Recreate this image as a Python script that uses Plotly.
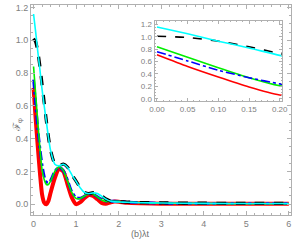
import plotly.graph_objects as go

# time grid
t = [0, 0.05, 0.1, 0.15, 0.2, 0.25, 0.3, 0.35, 0.4, 0.5, 0.6, 0.7, 0.8, 0.9, 1.0,
     1.1, 1.2, 1.3, 1.4, 1.5, 1.6, 1.7, 1.8, 1.9, 2.0, 2.2, 2.5, 3, 4, 5, 6]

red = [0.71, 0.52, 0.35, 0.19, 0.06, 0.01, 0.0, 0.02, 0.07, 0.16, 0.215, 0.2, 0.12, 0.04, 0.0,
       0.012, 0.038, 0.055, 0.05, 0.03, 0.008, 0.003, 0.01, 0.016, 0.015, 0.008, 0.005, 0.003, 0.002, 0.002, 0.002]
green = [0.84, 0.67, 0.5, 0.34, 0.21, 0.15, 0.12, 0.12, 0.14, 0.2, 0.228, 0.205, 0.14, 0.07, 0.035,
         0.035, 0.05, 0.063, 0.06, 0.045, 0.026, 0.017, 0.017, 0.018, 0.017, 0.013, 0.01, 0.006, 0.004, 0.003, 0.003]
blue = [0.76, 0.61, 0.46, 0.34, 0.24, 0.17, 0.135, 0.13, 0.145, 0.2, 0.226, 0.205, 0.145, 0.075, 0.04,
        0.037, 0.05, 0.062, 0.06, 0.046, 0.028, 0.019, 0.018, 0.018, 0.017, 0.013, 0.01, 0.006, 0.004, 0.003, 0.003]
black = [1.01, 0.99, 0.93, 0.84, 0.73, 0.62, 0.51, 0.41, 0.33, 0.245, 0.235, 0.245, 0.225, 0.18, 0.14,
         0.1, 0.072, 0.065, 0.07, 0.066, 0.05, 0.032, 0.02, 0.015, 0.014, 0.013, 0.01, 0.008, 0.006, 0.005, 0.005]
cyan = [1.16, 1.05, 0.93, 0.82, 0.70, 0.6, 0.505, 0.408, 0.328, 0.244, 0.234, 0.244, 0.224, 0.179, 0.139,
        0.099, 0.071, 0.064, 0.069, 0.065, 0.049, 0.031, 0.019, 0.014, 0.013, 0.012, 0.009, 0.007, 0.005, 0.004, 0.004]

x_ticks_main = [0, 1, 2, 3, 4, 5, 6]
y_ticks_main = [0.0, 0.2, 0.4, 0.6, 0.8, 1.0, 1.2]
x_ticks_inset = [0.0, 0.05, 0.1, 0.15, 0.2]
y_ticks_inset = [0.0, 0.2, 0.4, 0.6, 0.8, 1.0, 1.2]

fig = go.Figure()

def add(y, color, width, dash, xa, ya):
    fig.add_trace(go.Scatter(x=t, y=y, mode="lines", xaxis=xa, yaxis=ya,
                             line=dict(color=color, width=width, dash=dash, shape="spline", smoothing=0.6),
                             showlegend=False, hoverinfo="skip"))

# main
add(red, "#ff0000", 4.0, "solid", "x", "y")
add(blue, "#0000ff", 2.8, "dashdot", "x", "y")
add(green, "#00ee00", 1.6, "solid", "x", "y")
add(black, "#000000", 3.2, "dash", "x", "y")
add(cyan, "#00ffff", 1.6, "solid", "x", "y")
# inset
add(red, "#ff0000", 1.6, "solid", "x2", "y2")
add(green, "#00ee00", 1.6, "solid", "x2", "y2")
add(blue, "#0000ff", 1.6, "dashdot", "x2", "y2")
add(black, "#000000", 1.6, "dash", "x2", "y2")
add(cyan, "#00ffff", 1.6, "solid", "x2", "y2")

axcol = "#b0b0b0"
tickfont = dict(family="Liberation Sans, Arial, sans-serif", size=9, color="#808080")
tickfont_s = dict(family="Liberation Sans, Arial, sans-serif", size=8, color="#808080")
common = dict(showgrid=False, zeroline=False, showline=True, linecolor=axcol, linewidth=1,
              mirror="allticks", ticks="inside", tickcolor=axcol)

fig.update_layout(
    width=300, height=242,
    margin=dict(l=31, r=4, t=3, b=27),
    paper_bgcolor="white", plot_bgcolor="white",
    xaxis=dict(range=[-0.06, 6.05], tickvals=x_ticks_main, ticklen=4, tickfont=tickfont,
               minor=dict(ticks="inside", dtick=0.2, ticklen=2, tickcolor=axcol), **common),
    yaxis=dict(range=[-0.066, 1.215], tickvals=y_ticks_main, tickformat=".1f", ticklen=4, tickfont=tickfont,
               minor=dict(ticks="inside", dtick=0.05, ticklen=2, tickcolor=axcol), **common),
    xaxis2=dict(domain=[0.475, 0.966], anchor="y2", range=[-0.004, 0.204], tickvals=x_ticks_inset,
                tickformat=".2f", ticklen=3, tickfont=tickfont_s,
                minor=dict(ticks="inside", dtick=0.01, ticklen=1.5, tickcolor=axcol), **common),
    yaxis2=dict(domain=[0.542, 0.925], anchor="x2", range=[-0.04, 1.26], tickvals=y_ticks_inset,
                tickformat=".1f", ticklen=3, tickfont=tickfont_s,
                minor=dict(ticks="inside", dtick=0.05, ticklen=1.5, tickcolor=axcol), **common),
)

fig.add_annotation(text="ℱ<sub>φ</sub>", xref="paper", yref="paper", x=-0.085, y=0.43,
                   textangle=-90, showarrow=False,
                   font=dict(family="DejaVu Serif, serif", size=10, color="#707070"))
fig.add_annotation(text="(b)λt", xref="paper", yref="paper", x=0.423, y=-0.09,
                   xanchor="center", yanchor="middle", showarrow=False,
                   font=dict(family="Liberation Sans, Arial, sans-serif", size=9, color="#707070"))

fig.write_html("out.html", config={"displayModeBar": False},
               post_script="document.body.style.margin='0';document.body.style.overflow='hidden';")
